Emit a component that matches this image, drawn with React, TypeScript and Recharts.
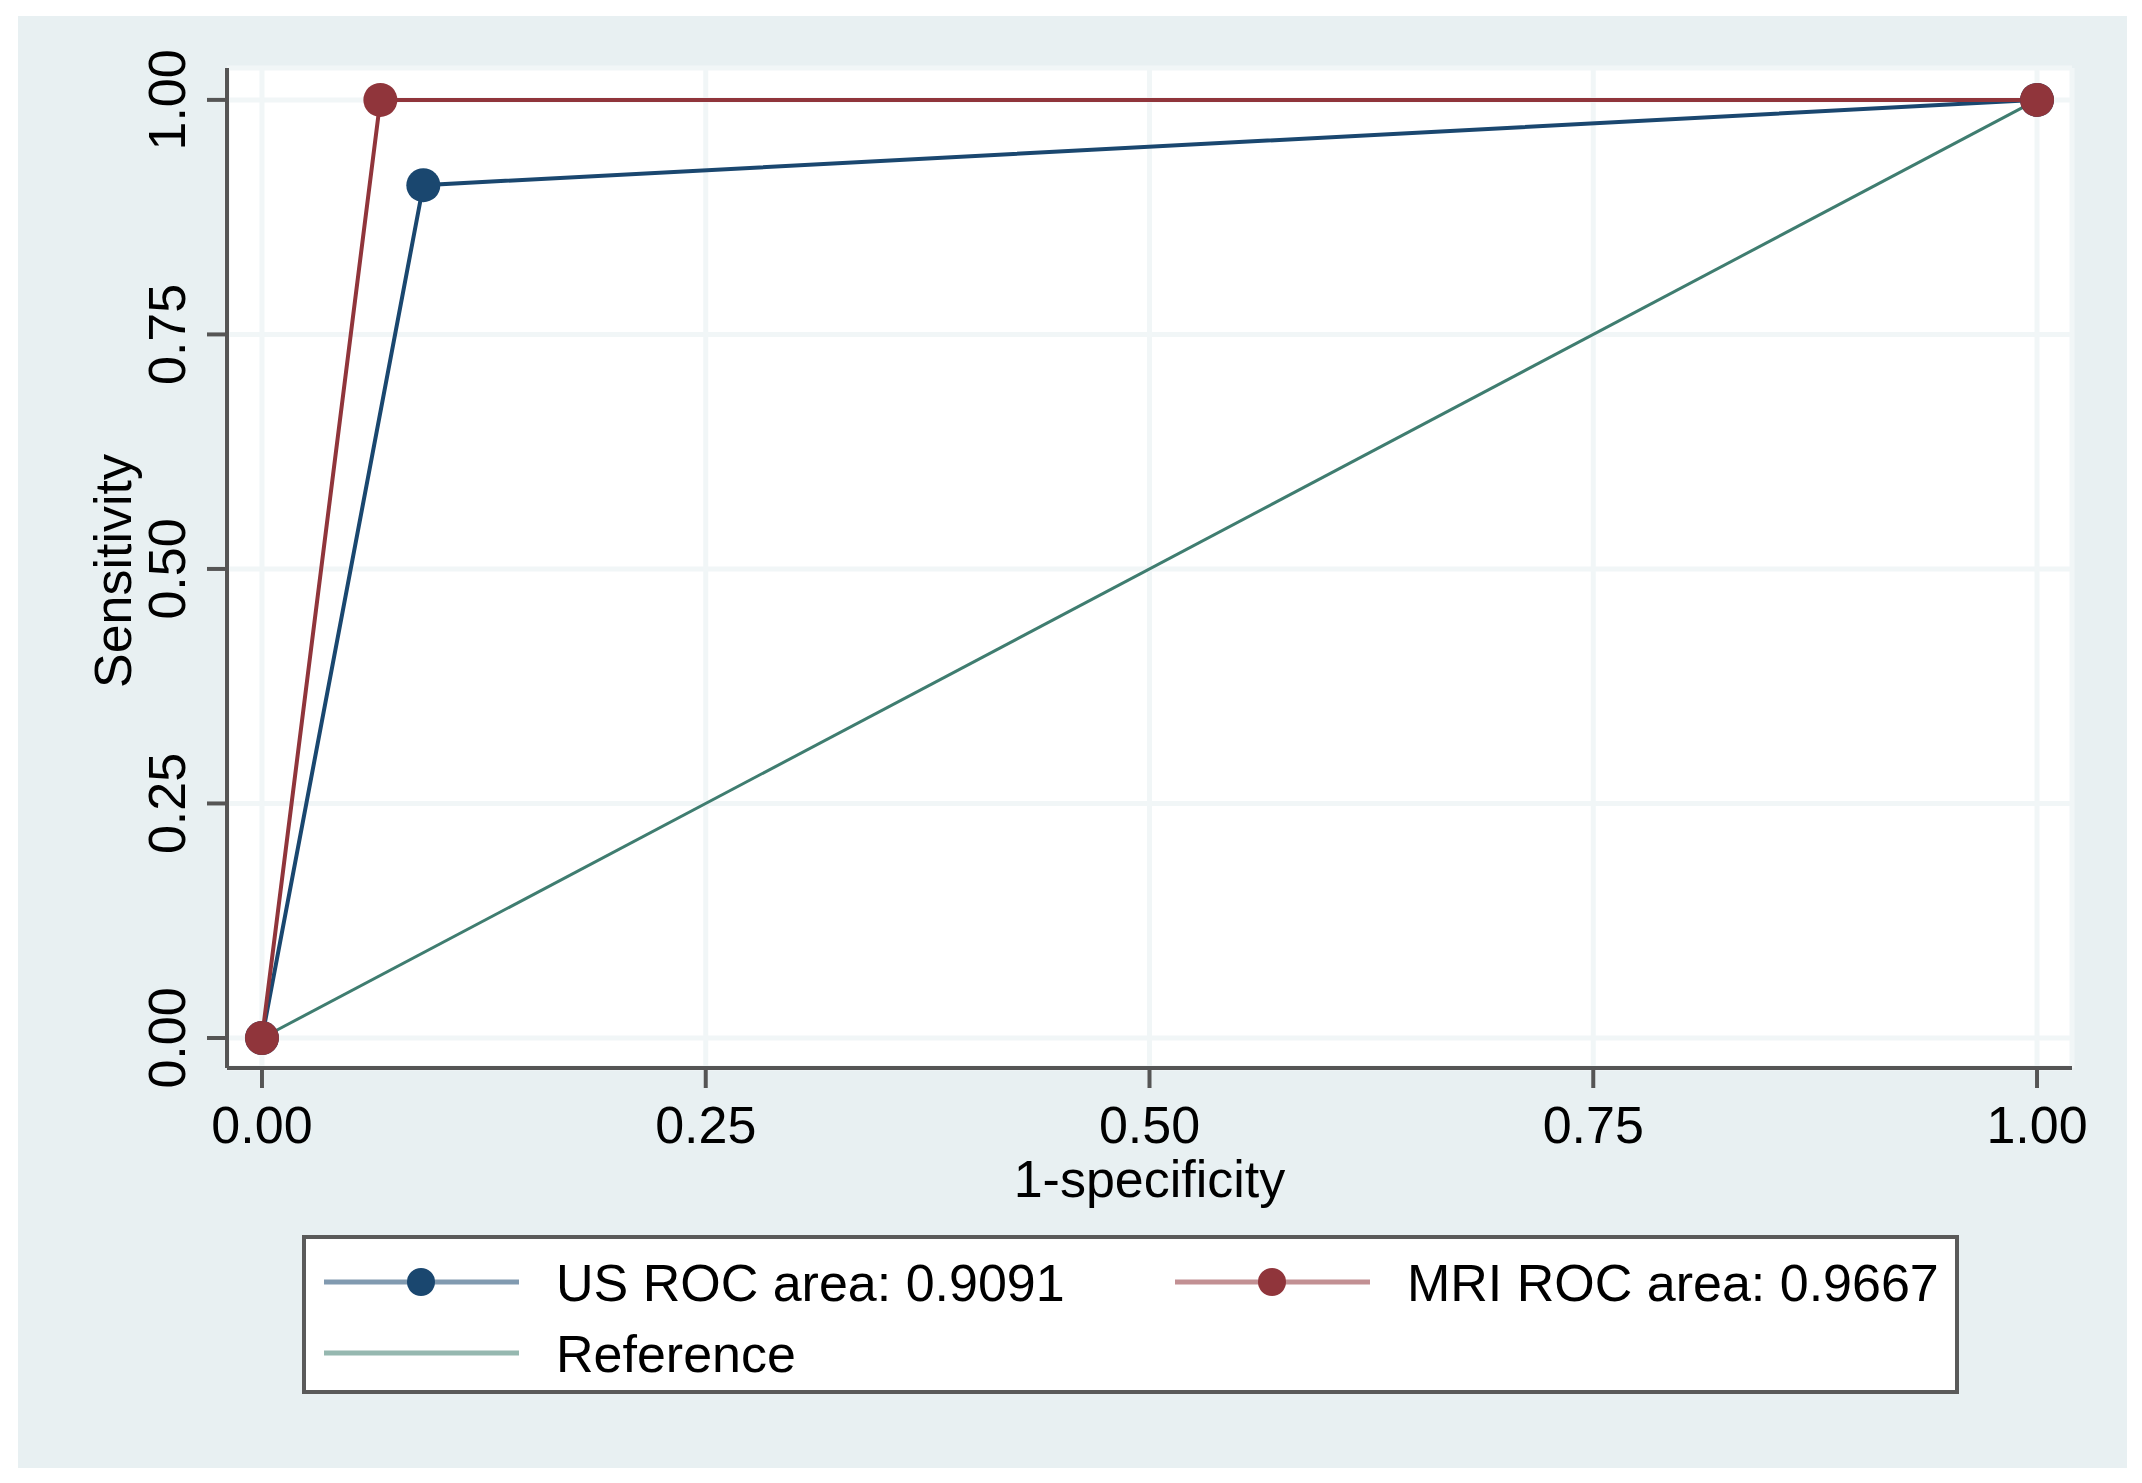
import {
  CartesianGrid,
  ComposedChart,
  Label,
  Line,
  XAxis,
  YAxis,
} from "recharts";

// ROC points (x = 1-specificity, y = sensitivity)
const usRoc = [
  { x: 0, y: 0 },
  { x: 0.0909, y: 0.9091 },
  { x: 1, y: 1 },
];
const mriRoc = [
  { x: 0, y: 0 },
  { x: 0.0667, y: 1 },
  { x: 1, y: 1 },
];
const referenceLine = [
  { x: 0, y: 0 },
  { x: 1, y: 1 },
];
const axisTicks = [0, 0.25, 0.5, 0.75, 1];
const seriesNames = ["US ROC area: 0.9091", "MRI ROC area: 0.9667", "Reference"];
const seriesColors = ["#1a476f", "#90353b", "#3f7d70"];

const FONT = '"Liberation Sans", Arial, Helvetica, sans-serif';
const W = 2142;
const H = 1483;

function YTick(props: any) {
  const { y, payload } = props;
  const cx = 167;
  return (
    <text
      x={cx}
      y={y}
      dy="0.35em"
      textAnchor="middle"
      transform={`rotate(-90, ${cx}, ${y})`}
      fontSize={52}
      fontFamily={FONT}
      fill="#000"
    >
      {Number(payload.value).toFixed(2)}
    </text>
  );
}

function Legendbox() {
  const items = [
    { name: seriesNames[0], color: seriesColors[0], dot: true, lx: 22, row: 47 },
    { name: seriesNames[1], color: seriesColors[1], dot: true, lx: 873, row: 47 },
    { name: seriesNames[2], color: seriesColors[2], dot: false, lx: 22, row: 118 },
  ];
  return (
    <div
      style={{
        position: "absolute",
        left: 302,
        top: 1235,
        width: 1657,
        height: 159,
        boxSizing: "border-box",
        border: "4px solid #5a5a5a",
        background: "#fff",
      }}
    >
      <svg width={1649} height={151} style={{ position: "absolute", left: -4, top: -4 }}>
        {items.map((it) => (
          <g key={it.name}>
            <line
              x1={it.lx}
              x2={it.lx + 195}
              y1={it.row}
              y2={it.row}
              stroke={it.color}
              strokeOpacity={0.55}
              strokeWidth={5}
            />
            {it.dot && <circle cx={it.lx + 97} cy={it.row} r={14} fill={it.color} />}
            <text
              x={it.lx + 232}
              y={it.row}
              dy="0.36em"
              fontSize={52}
              fontFamily={FONT}
              fill="#000"
            >
              {it.name}
            </text>
          </g>
        ))}
      </svg>
    </div>
  );
}

export default function App() {
  return (
    <div
      style={{
        position: "absolute",
        left: 0,
        top: 0,
        width: W,
        height: H,
        background: "#fff",
      }}
    >
      <div
        style={{
          position: "absolute",
          left: 18,
          top: 16,
          width: 2109,
          height: 1452,
          background: "#e8f0f2",
        }}
      />
      <div style={{ position: "absolute", left: 0, top: 0 }}>
        <ComposedChart
          width={W}
          height={H}
          margin={{ top: 68, right: 70, bottom: 0, left: 0 }}
        >
          <CartesianGrid fill="#fff" stroke="#f1f6f7" strokeWidth={5} />
          <XAxis
            type="number"
            dataKey="x"
            domain={[-0.0197, 1.0197]}
            allowDataOverflow
            ticks={axisTicks}
            interval={0}
            height={415}
            tickFormatter={(v: number) => v.toFixed(2)}
            tick={{ fontSize: 52, fill: "#000", fontFamily: FONT }}
            tickSize={20}
            tickMargin={18}
            axisLine={{ stroke: "#555", strokeWidth: 4 }}
            tickLine={{ stroke: "#555", strokeWidth: 4 }}
          >
            <Label
              content={(p: any) => {
                const vb = p.viewBox;
                return (
                  <text
                    x={vb.x + vb.width / 2}
                    y={vb.y + 110}
                    dy="0.36em"
                    textAnchor="middle"
                    fontSize={52}
                    fontFamily={FONT}
                    fill="#000"
                  >
                    1-specificity
                  </text>
                );
              }}
            />
          </XAxis>
          <YAxis
            type="number"
            dataKey="y"
            domain={[-0.032, 1.034]}
            allowDataOverflow
            ticks={axisTicks}
            interval={0}
            width={227}
            tick={<YTick />}
            tickSize={20}
            tickMargin={0}
            axisLine={{ stroke: "#555", strokeWidth: 4 }}
            tickLine={{ stroke: "#555", strokeWidth: 4 }}
          >
            <Label
              content={(p: any) => {
                const vb = p.viewBox;
                const cx = 112;
                const cy = vb.y + vb.height / 2 + 3;
                return (
                  <text
                    x={cx}
                    y={cy}
                    dy="0.36em"
                    textAnchor="middle"
                    transform={`rotate(-90, ${cx}, ${cy})`}
                    fontSize={52}
                    fontFamily={FONT}
                    fill="#000"
                  >
                    Sensitivity
                  </text>
                );
              }}
            />
          </YAxis>
          <Line
            data={usRoc}
            dataKey="y"
            type="linear"
            stroke={seriesColors[0]}
            strokeWidth={4}
            dot={{ r: 17, fill: seriesColors[0], stroke: "none" }}
            activeDot={false}
            isAnimationActive={false}
            name={seriesNames[0]}
          />
          <Line
            data={mriRoc}
            dataKey="y"
            type="linear"
            stroke={seriesColors[1]}
            strokeWidth={4}
            dot={{ r: 17, fill: seriesColors[1], stroke: "none" }}
            activeDot={false}
            isAnimationActive={false}
            name={seriesNames[1]}
          />
          <Line
            data={referenceLine}
            dataKey="y"
            type="linear"
            stroke={seriesColors[2]}
            strokeWidth={3}
            dot={false}
            activeDot={false}
            isAnimationActive={false}
            name={seriesNames[2]}
          />
        </ComposedChart>
      </div>
      <Legendbox />
    </div>
  );
}
